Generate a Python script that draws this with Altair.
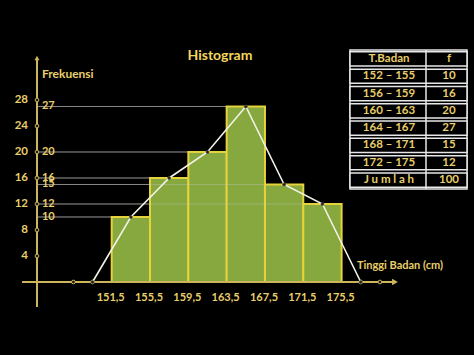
import altair as alt
import pandas as pd

# ---------------- data ----------------
class_labels = ["152 – 155", "156 – 159", "160 – 163", "164 – 167", "168 – 171", "172 – 175"]
freqs = [10, 16, 20, 27, 15, 12]
lower_bounds = [151.5, 155.5, 159.5, 163.5, 167.5, 171.5]
upper_bounds = [155.5, 159.5, 163.5, 167.5, 171.5, 175.5]
midpoints = [153.5, 157.5, 161.5, 165.5, 169.5, 173.5]
poly_x = [149.5, 153.5, 157.5, 161.5, 165.5, 169.5, 173.5, 177.5]
poly_y = [0, 10, 16, 20, 27, 15, 12, 0]
x_tick_values = [151.5, 155.5, 159.5, 163.5, 167.5, 171.5, 175.5]
x_tick_labels = ["151,5", "155,5", "159,5", "163,5", "167,5", "171,5", "175,5"]
x_dot_values = [147.5, 149.5, 177.5, 179.5]
y_tick_values = [4, 8, 12, 16, 20, 24, 28]
table_rows = ["T.Badan"] + class_labels + ["J u m l a h"]
table_f = ["f"] + [str(v) for v in freqs] + ["100"]

# ---------------- layout constants ----------------
X_MIN, X_MAX = 139.84, 189.32
Y_MIN, Y_MAX = -11.23, 43.38
AXIS_X = 143.7          # where the vertical axis sits (x data units)
Y_AXIS_TOP, Y_AXIS_BOTTOM = 34.46, -3.85
X_AXIS_LEFT, X_AXIS_RIGHT = 142.14, 181.07

FONT = "Lato"
TXT = "#e9cf6b"
GOLD = "#cdb65a"
BAR_FILL = "#86a83e"
BAR_STROKE = "#e6d23a"

XS = alt.Scale(domain=[X_MIN, X_MAX], nice=False, zero=False)
YS = alt.Scale(domain=[Y_MIN, Y_MAX], nice=False, zero=False)


def X(f):
    return alt.X(f, type="quantitative", scale=XS, axis=None)


def Y(f):
    return alt.Y(f, type="quantitative", scale=YS, axis=None)


bars_df = pd.DataFrame({"lo": lower_bounds, "hi": upper_bounds, "f": freqs, "mid": midpoints})
poly_df = pd.DataFrame({"x": poly_x, "y": poly_y, "i": list(range(len(poly_x)))})
xt_df = pd.DataFrame({"v": x_tick_values, "lab": x_tick_labels})
xdot_df = pd.DataFrame({"v": x_dot_values})
yt_df = pd.DataFrame({"v": y_tick_values, "lab": [str(v) for v in y_tick_values]})
one = pd.DataFrame({"k": [0]})

grid = alt.Chart(bars_df).transform_calculate(ax=str(AXIS_X)).mark_rule(
    color="#8a8a8a", strokeWidth=1, opacity=0.75
).encode(x=X("ax"), x2=alt.X2("lo"), y=Y("f"))

bars = alt.Chart(bars_df).transform_calculate(z="0").mark_rect(
    fill=BAR_FILL, stroke=BAR_STROKE, strokeWidth=2
).encode(x=X("lo"), x2=alt.X2("hi"), y=Y("f"), y2=alt.Y2("z"))

grid_over = alt.Chart(bars_df).transform_calculate(ax=str(AXIS_X)).mark_rule(
    color="#c8c8c8", strokeWidth=1, opacity=0.35
).encode(x=X("ax"), x2=alt.X2("lo"), y=Y("f"))

y_axis = alt.Chart(one).transform_calculate(
    ax=str(AXIS_X), t=str(Y_AXIS_TOP), b=str(Y_AXIS_BOTTOM)
).mark_rule(color=GOLD, strokeWidth=2).encode(x=X("ax"), y=Y("b"), y2=alt.Y2("t"))

x_axis = alt.Chart(one).transform_calculate(
    l=str(X_AXIS_LEFT), r=str(X_AXIS_RIGHT), z="0"
).mark_rule(color=GOLD, strokeWidth=2).encode(x=X("l"), x2=alt.X2("r"), y=Y("z"))

x_arrow = alt.Chart(one).transform_calculate(r=str(X_AXIS_RIGHT), z="0").mark_point(
    shape="triangle-right", filled=True, color=GOLD, size=45, opacity=1
).encode(x=X("r"), y=Y("z"))

y_arrow = alt.Chart(one).transform_calculate(ax=str(AXIS_X), t=str(Y_AXIS_TOP)).mark_point(
    shape="triangle-up", filled=True, color=GOLD, size=25, opacity=1
).encode(x=X("ax"), y=Y("t"))

poly_line = alt.Chart(poly_df).mark_line(color="#f2f2e6", strokeWidth=1.6).encode(
    x=X("x"), y=Y("y"), order="i:Q"
)
poly_dots = alt.Chart(poly_df).mark_point(
    filled=True, fill="#222222", stroke="#555555", strokeWidth=0.5, size=10, opacity=1
).encode(x=X("x"), y=Y("y"))

y_dots = alt.Chart(yt_df).transform_calculate(ax=str(AXIS_X)).mark_point(
    filled=True, fill="#1a1a1a", stroke=GOLD, strokeWidth=1, size=14, opacity=1
).encode(x=X("ax"), y=Y("v"))

x_dots = alt.Chart(xdot_df).transform_calculate(z="0").mark_point(
    filled=True, fill="#1a1a1a", stroke=GOLD, strokeWidth=1, size=14, opacity=1
).encode(x=X("v"), y=Y("z"))

y_labels = alt.Chart(yt_df).transform_calculate(px="142.76").mark_text(
    align="right", baseline="middle", font=FONT, fontSize=11.5, fontWeight="bold", color=TXT
).encode(x=X("px"), y=Y("v"), text="lab:N")

inner_labels = alt.Chart(bars_df).transform_calculate(px="144.22").mark_text(
    align="left", baseline="middle", font=FONT, fontSize=11, fontWeight="bold", color=TXT
).encode(x=X("px"), y=Y("f"), text="f:Q")

x_labels = alt.Chart(xt_df).transform_calculate(py="-2.5").mark_text(
    align="center", baseline="middle", font=FONT, fontSize=11, fontWeight="bold", color=TXT, dx=-1
).encode(x=X("v"), y=Y("py"), text="lab:N")

y_title = alt.Chart(one).transform_calculate(px="144.22", py="32").mark_text(
    text="Frekuensi", align="left", baseline="middle", font=FONT, fontSize=12,
    fontWeight="bold", color=TXT
).encode(x=X("px"), y=Y("py"))

x_title = alt.Chart(one).transform_calculate(px="177.1", py="2.46").mark_text(
    text="Tinggi Badan (cm)", align="left", baseline="middle", font=FONT, fontSize=11,
    fontWeight="bold", color=TXT
).encode(x=X("px"), y=Y("py"))

title = alt.Chart(one).transform_calculate(px="162.8", py="34.77").mark_text(
    text="Histogram", align="center", baseline="middle", font=FONT, fontSize=14,
    fontWeight="bold", color="#f3d65e"
).encode(x=X("px"), y=Y("py"))

main = alt.layer(
    grid, bars, grid_over, x_axis, y_axis, x_arrow, y_arrow, x_dots, y_dots,
    poly_line, poly_dots, y_labels, inner_labels, x_labels, y_title, x_title, title
)

# ---------------- table ----------------
tab_df = pd.DataFrame({"row": table_rows, "f": table_f})
RY = alt.Y("row:N", scale=alt.Scale(domain=table_rows, range=[51, 188], paddingInner=0.18, paddingOuter=0.05), axis=None)

tab_outer = alt.Chart(one).mark_rect(fill="black", stroke="#e8e8e8", strokeWidth=1.5).encode(
    x=alt.value(350), x2=alt.value(467), y=alt.value(50), y2=alt.value(189)
)
tab_rows = alt.Chart(tab_df).mark_rect(fill="black", stroke="#e8e8e8", strokeWidth=1.5).encode(
    x=alt.value(350), x2=alt.value(467), y=RY
)
tab_sep = alt.Chart(one).mark_rule(color="#e8e8e8", strokeWidth=1.5).encode(
    x=alt.value(426), y=alt.value(50), y2=alt.value(189)
)
tab_c1 = alt.Chart(tab_df).mark_text(
    align="center", baseline="middle", font=FONT, fontSize=11.5, fontWeight="bold", color=TXT
).encode(x=alt.value(389), y=RY, text="row:N")
tab_c2 = alt.Chart(tab_df).mark_text(
    align="center", baseline="middle", font=FONT, fontSize=11.5, fontWeight="bold", color=TXT
).encode(x=alt.value(449), y=RY, text="f:N")

table = alt.layer(tab_outer, tab_rows, tab_sep, tab_c1, tab_c2)

chart = alt.layer(main, table).resolve_scale(y="independent", x="independent").properties(
    width=474, height=355, background="black", padding=0,
    autosize=alt.AutoSizeParams(type="none"),
).configure_view(strokeWidth=0)

chart.save("out.html", embed_options={"renderer": "svg", "actions": False})
